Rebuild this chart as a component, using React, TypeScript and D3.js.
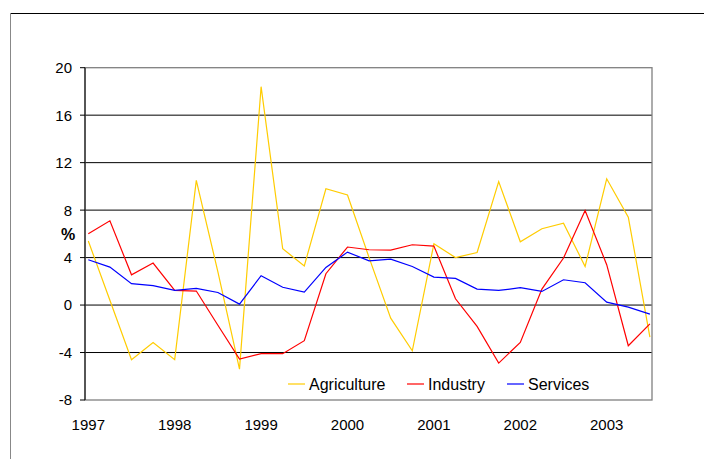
import * as d3 from "d3";

const quarters = d3.range(27);
const yearLabels = ["1997", "1998", "1999", "2000", "2001", "2002", "2003"];
const yTicks = [20, 16, 12, 8, 4, 0, -4, -8];

const agriculture = [5.4, 0.4, -4.6, -3.15, -4.6, 10.5, 2.8, -5.4, 18.4, 4.74, 3.3, 9.8, 9.27, 4.0, -1.1, -3.85, 5.16, 4.0, 4.43, 10.4, 5.33, 6.43, 6.9, 3.25, 10.64, 7.41, -2.7];
const industry = [6.0, 7.1, 2.55, 3.54, 1.23, 1.18, -1.7, -4.55, -4.1, -4.1, -3.0, 2.64, 4.89, 4.66, 4.63, 5.08, 4.97, 0.53, -1.8, -4.89, -3.15, 1.35, 3.96, 7.97, 3.4, -3.43, -1.58];
const services = [3.82, 3.2, 1.8, 1.63, 1.23, 1.4, 1.06, 0.08, 2.47, 1.5, 1.09, 3.17, 4.46, 3.72, 3.87, 3.25, 2.36, 2.25, 1.35, 1.23, 1.46, 1.15, 2.13, 1.88, 0.25, -0.17, -0.76];

const series = [
    { name: "Agriculture", values: agriculture, color: "#FFCC00" },
    { name: "Industry", values: industry, color: "#FF0000" },
    { name: "Services", values: services, color: "#0000FF" },
];

const App = () => {
    const width = 704;
    const height = 459;
    const plotLeft = 85;
    const plotRight = 652;
    const plotTop = 67.7;
    const plotBottom = 400;

    const x = d3.scaleLinear().domain([0, 26]).range([88.3, 649.9]);
    const y = d3.scaleLinear().domain([-8, 20]).range([plotBottom, plotTop]);
    const line = d3.line<number>().x((_, i) => x(i)).y(d => y(d));

    const font = "'Liberation Sans', Arial, sans-serif";
    const legendX = [288, 407, 507];

    return (
        <svg width={width} height={height} style={{ position: "absolute", left: 0, top: 0, background: "#fff" }} fontFamily={font}>
            <line x1={10} x2={width} y1={13.5} y2={13.5} stroke="#000" />
            <line x1={10.5} x2={10.5} y1={13} y2={height} stroke="#888" />

            {yTicks.filter(t => t !== 20 && t !== -8).map(t => (
                <line key={t} x1={plotLeft} x2={plotRight} y1={y(t)} y2={y(t)} stroke="#000" />
            ))}
            <rect x={plotLeft} y={plotTop} width={plotRight - plotLeft} height={plotBottom - plotTop} fill="none" stroke="#808080" strokeWidth={1.3} />
            <line x1={plotLeft} x2={plotLeft} y1={plotTop} y2={plotBottom} stroke="#000" />

            {yTicks.map(t => (
                <g key={t}>
                    <line x1={80} x2={plotLeft} y1={y(t)} y2={y(t)} stroke="#000" />
                    <text x={72} y={y(t)} dy="0.36em" textAnchor="end" fontSize={15} fill="#000">{t}</text>
                </g>
            ))}
            <text x={68} y={234} dy="0.36em" textAnchor="middle" fontSize={16} fontWeight="bold">%</text>

            {yearLabels.map((lab, i) => (
                <text key={lab} x={x(quarters[i * 4])} y={425} dy="0.36em" textAnchor="middle" fontSize={15}>{lab}</text>
            ))}

            {series.map(s => (
                <path key={s.name} d={line(s.values) ?? ""} fill="none" stroke={s.color} strokeWidth={1.2} />
            ))}

            {series.map((s, i) => (
                <g key={s.name} transform={`translate(${legendX[i]},384)`}>
                    <line x1={0} x2={17} y1={0} y2={0} stroke={s.color} strokeWidth={1.2} />
                    <text x={21} y={0} dy="0.36em" fontSize={16}>{s.name}</text>
                </g>
            ))}
        </svg>
    );
};

export default App;
